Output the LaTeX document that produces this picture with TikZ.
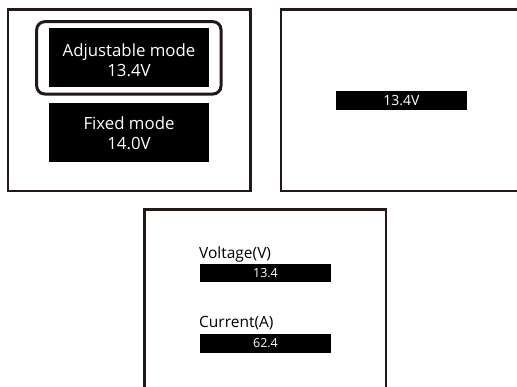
\documentclass[tikz,border=0pt]{standalone}
\usepackage{fontspec}
\setmainfont{Open Sans}
\definecolor{frame}{HTML}{231815}
\begin{document}
\begin{tikzpicture}[x=1pt,y=-1pt,
  panel/.style={draw=frame,line width=2.5pt},
  blackbox/.style={fill=black,draw=none,inner sep=0pt},
  bigtext/.style={text=white,font=\fontsize{16.8}{20}\selectfont,inner sep=0pt,anchor=base},
  label/.style={text=black,font=\fontsize{15.5}{18}\selectfont,inner sep=0pt,anchor=base west},
  valtext/.style={text=white,font=\fontsize{12.5}{14}\selectfont,inner sep=0pt}]
\useasboundingbox (0,0) rectangle (517,386);
\begin{scope}
\clip (0,0) rectangle (517,386);
% panel 1
\draw[panel] (7.8,9.5) rectangle (250.6,190.8);
\draw[draw=frame,line width=3pt,rounded corners=8pt] (36.7,21.7) rectangle (221,94);
\node[blackbox,minimum width=159.7pt,minimum height=59pt] (adjbox) at (129.15,57.2) {};
\node[bigtext] (adjt1) at (129,56) {Adjustable mode};
\node[bigtext] (adjt2) at (129,76) {13.4V};
\node[blackbox,minimum width=159.7pt,minimum height=59.3pt] (fixbox) at (129.15,132.35) {};
\node[bigtext] (fixt1) at (129,129) {Fixed mode};
\node[bigtext] (fixt2) at (129,149) {14.0V};
% panel 2
\draw[panel] (281.2,9.5) rectangle (530,190.8);
\node[blackbox,minimum width=131pt,minimum height=19.3pt] (p2box) at (401.5,100.35) {};
\node[valtext,font=\fontsize{14}{16}\selectfont] (p2t) at (p2box.center) {13.4V};
% panel 3
\draw[panel] (144.5,400) -- (144.5,209.5) -- (386,209.5) -- (386,400);
\node[label] (vlab) at (199,258) {Voltage(V)};
\node[blackbox,minimum width=131pt,minimum height=18.3pt] (vbox) at (265.5,273.2) {};
\node[valtext] (vval) at (vbox.center) {13.4};
\node[label] (clab) at (199,327.5) {Current(A)};
\node[blackbox,minimum width=131pt,minimum height=18.7pt] (cbox) at (265.5,343.3) {};
\node[valtext] (cval) at (cbox.center) {62.4};
\end{scope}
\end{tikzpicture}
\end{document}
